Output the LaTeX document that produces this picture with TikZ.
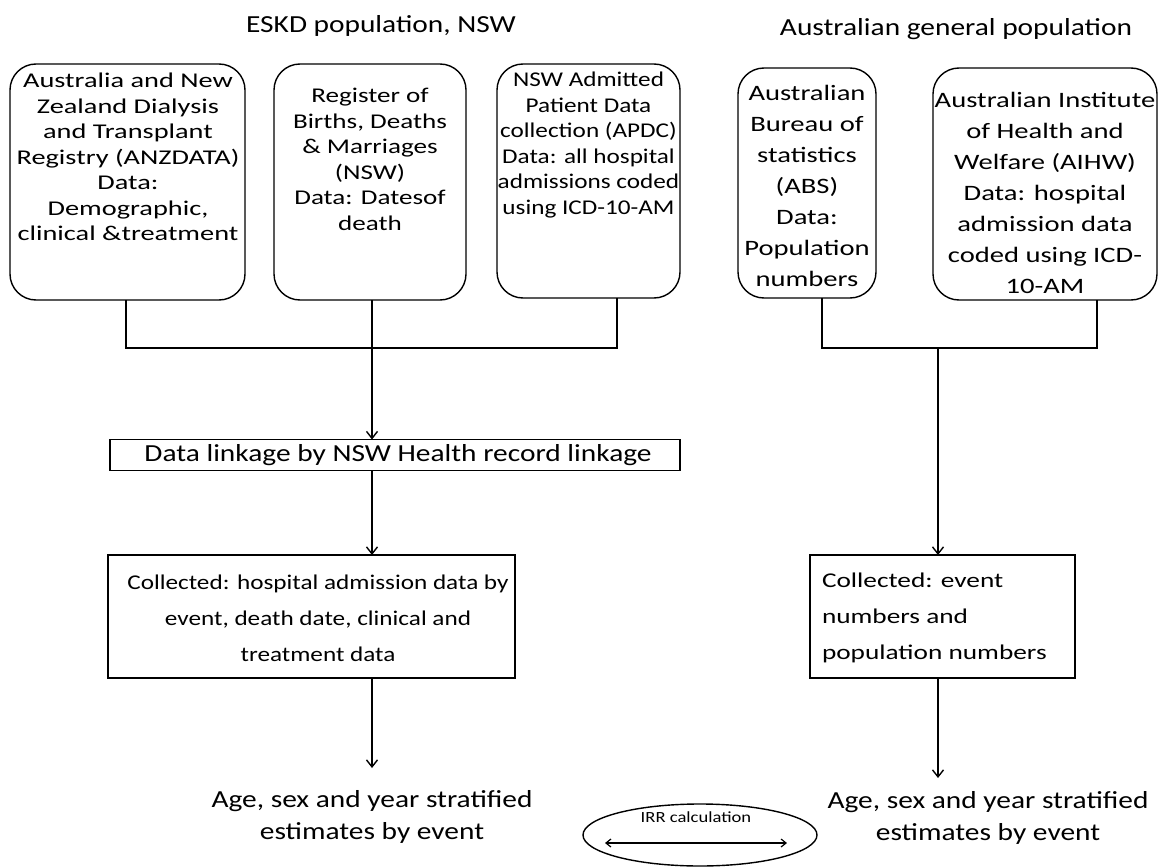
\documentclass[tikz,border=0pt]{standalone}
\usepackage{fontspec}
\setmainfont{Carlito}[FakeStretch=1.2]
\newfontfamily\fA{Carlito}[FakeStretch=1.35]
\newfontfamily\fB{Carlito}[FakeStretch=1.29]
\newfontfamily\fC{Carlito}[FakeStretch=1.3]
\usetikzlibrary{arrows.meta,shapes.geometric}
\begin{document}
\begin{tikzpicture}[x=1pt,y=-1pt,
  every node/.style={inner sep=0pt, outer sep=0pt},
  rbox/.style={draw, line width=1.4pt, rounded corners=26pt},
  sbox/.style={draw, line width=1.4pt},
  boxtext/.style={align=center, font=\fontsize{21}{25.5}\selectfont},
  rtext/.style={align=center, font=\fC\fontsize{22}{31}\selectfont},
  bigtext/.style={align=center, font=\fontsize{24.5}{32}\selectfont},
  coltext/.style={font=\fontsize{21}{36}\selectfont},
  conn/.style={line width=1.4pt},
  arr/.style={conn, -{Straight Barb[length=7pt,width=11pt]}},
  dbl/.style={line width=1.2pt, {Straight Barb[length=5pt,width=8pt]}-{Straight Barb[length=5pt,width=8pt]}},
]
\useasboundingbox (0,0) rectangle (1165,867);

% titles
\node[bigtext] (title1) at (381,26) {ESKD population, NSW};
\node[bigtext] (title2) at (956,29) {Australian general population};

% top boxes
\node[rbox, minimum width=235pt, minimum height=236pt] (b1) at (127.5,182) {};
\node[boxtext, font=\fA\fontsize{21}{25.5}\selectfont] (t1) at (128,157) {Australia and New\\Zealand Dialysis\\and Transplant\\Registry (ANZDATA)\\Data:\\Demographic,\\clinical \&treatment};

\node[rbox, minimum width=192pt, minimum height=236pt] (b2) at (370,182) {};
\node[boxtext, font=\fB\fontsize{21}{25.5}\selectfont] (t2) at (370,159.5) {Register of\\Births, Deaths\\\& Marriages\\(NSW)\\Data: Datesof\\death};

\node[rbox, minimum width=183pt, minimum height=234pt] (b3) at (588.5,181) {};
\node[boxtext] (t3) at (588.5,145) {NSW Admitted\\Patient Data\\collection (APDC)\\Data: all hospital\\admissions coded\\using ICD-10-AM};

\node[rbox, minimum width=138pt, minimum height=230pt] (b4) at (807,183) {};
\node[rtext] (t4) at (807,186) {Australian\\Bureau of\\statistics\\(ABS)\\Data:\\Population\\numbers};

\node[rbox, minimum width=224pt, minimum height=232pt] (b5) at (1045,184) {};
\node[rtext] (t5) at (1045,193) {Australian Institute\\of Health and\\Welfare (AIHW)\\Data: hospital\\admission data\\coded using ICD-\\10-AM};

% junctions
\coordinate (jl1) at (126,348);
\coordinate (jl2) at (372,348);
\coordinate (jl3) at (617,348);
\coordinate (jr1) at (822,348);
\coordinate (jr2) at (1097,348);
\coordinate (jrm) at (938,348);

\draw[conn] (b1.south -| jl1) -- (jl1) -- (jl3) -- (b3.south -| jl3);
\draw[conn] (b2.south -| jl2) -- (jl2);
\draw[conn] (b4.south -| jr1) -- (jr1) -- (jr2) -- (b5.south -| jr2);

% left chain
\node[sbox, minimum width=570pt, minimum height=31pt] (link) at (395,455) {};
\node[bigtext] (linkt) at (398,455) {Data linkage by NSW Health record linkage};
\draw[arr] (jl2) -- (link.north -| jl2);

\node[sbox, minimum width=407pt, minimum height=123pt] (coll) at (311.5,616.5) {};
\node[coltext, align=center] (collt) at (318,618) {Collected: hospital admission data by\\event, death date, clinical and\\treatment data};
\draw[arr] (link.south -| jl2) -- (coll.north -| jl2);

\coordinate (endl) at (372,768);
\draw[arr] (coll.south -| jl2) -- (endl);
\node[bigtext] (resl) at (372,817) {Age, sex and year stratified\\estimates by event};

% right chain
\node[sbox, minimum width=265pt, minimum height=123pt] (colr) at (942.5,616.5) {};
\node[coltext, align=left, anchor=west, font=\fC\fontsize{21}{36}\selectfont] (colrt) at (822,618) {Collected: event\\numbers and\\population numbers};
\draw[arr] (jrm) -- (colr.north -| jrm);
\coordinate (endr) at (938,778);
\draw[arr] (colr.south -| jrm) -- (endr);
\node[bigtext] (resr) at (988,818) {Age, sex and year stratified\\estimates by event};

% IRR ellipse
\node[draw, ellipse, line width=1.4pt, minimum width=234pt, minimum height=62pt] (irr) at (700,835) {};
\node[font=\fontsize{15.5}{18}\selectfont] (irrt) at (696,817) {IRR calculation};
\coordinate (irra) at (605,843);
\coordinate (irrb) at (787,843);
\draw[dbl] (irra) -- (irrb);
\end{tikzpicture}
\end{document}
